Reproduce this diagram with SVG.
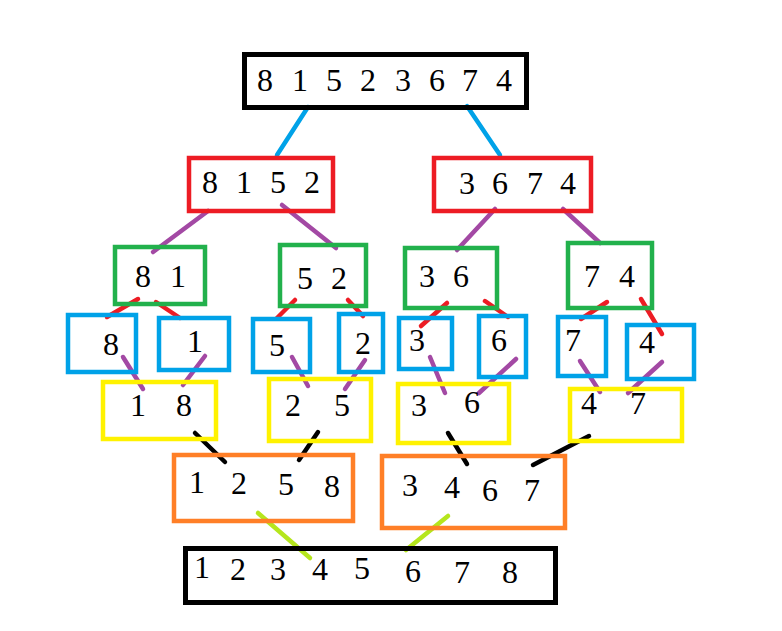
<svg xmlns="http://www.w3.org/2000/svg" width="782" height="631" viewBox="0 0 782 631">
<style>
.b{fill:none;stroke-width:4.5}
.k{stroke:#000000;stroke-width:5}
.r{stroke:#ed1c24}
.g{stroke:#22b14c}
.u{stroke:#00a2e8}
.y{stroke:#fff200}
.o{stroke:#ff7f27}
text{font-size:32px;fill:#000000;text-anchor:middle}
.c line{stroke-width:4.5;stroke-linecap:round}
</style>
<rect width="782" height="631" fill="#ffffff"/>
<g class="c" id="connectors">
<g stroke="#00a2e8"><line x1="308" y1="107" x2="277" y2="155"/><line x1="467" y1="106" x2="500" y2="155"/></g>
<g stroke="#a349a4"><line x1="208" y1="211" x2="153" y2="252"/><line x1="282" y1="205" x2="336" y2="248"/><line x1="495" y1="209" x2="457" y2="250"/><line x1="563" y1="209" x2="600" y2="243"/></g>
<g stroke="#ed1c24"><line x1="138" y1="299" x2="107" y2="317"/><line x1="156" y1="302" x2="180" y2="318"/><line x1="295" y1="300" x2="277" y2="318"/><line x1="348" y1="300" x2="363" y2="316"/><line x1="447" y1="303" x2="421" y2="326"/><line x1="485" y1="301" x2="508" y2="317"/><line x1="607" y1="302" x2="581" y2="319"/><line x1="641" y1="299" x2="662" y2="334"/></g>
<g stroke="#a349a4"><line x1="123" y1="357" x2="143" y2="389"/><line x1="205" y1="356" x2="183" y2="385"/><line x1="292" y1="357" x2="308" y2="386"/><line x1="365" y1="360" x2="345" y2="389"/><line x1="430" y1="357" x2="445" y2="393"/><line x1="516" y1="359" x2="479" y2="393"/><line x1="580" y1="361" x2="600" y2="392"/><line x1="662" y1="362" x2="628" y2="393"/></g>
<g stroke="#000000"><line x1="195" y1="433" x2="225" y2="462"/><line x1="318" y1="432" x2="299" y2="460"/><line x1="448" y1="433" x2="467" y2="464"/><line x1="589" y1="436" x2="533" y2="465"/></g>
<g stroke="#b5e61d"><line x1="258" y1="513" x2="310" y2="558"/><line x1="448" y1="516" x2="406" y2="550"/></g>
</g>
<g id="nodes" font-family="Liberation Serif, DejaVu Serif, serif">
<g id="n0"><rect class="b k" x="244.5" y="54.5" width="282" height="53"/><text x="265" y="91">8</text><text x="300" y="91">1</text><text x="334" y="91">5</text><text x="368" y="91">2</text><text x="403" y="91">3</text><text x="437" y="91">6</text><text x="470" y="91">7</text><text x="504" y="91">4</text></g>
<g id="n1"><rect class="b r" x="189" y="158" width="144" height="53"/><text x="210" y="193">8</text><text x="244" y="193">1</text><text x="278" y="193">5</text><text x="312" y="193">2</text></g>
<g id="n2"><rect class="b r" x="434" y="158" width="157" height="53"/><text x="467" y="194">3</text><text x="500" y="194">6</text><text x="535" y="194">7</text><text x="568" y="194">4</text></g>
<g id="n3"><rect class="b g" x="115" y="247" width="90" height="57"/><text x="143" y="287">8</text><text x="178" y="287">1</text></g>
<g id="n4"><rect class="b g" x="280" y="245" width="86" height="61"/><text x="305" y="289">5</text><text x="339" y="289">2</text></g>
<g id="n5"><rect class="b g" x="405" y="248" width="92" height="60"/><text x="427" y="287">3</text><text x="461" y="287">6</text></g>
<g id="n6"><rect class="b g" x="568" y="243" width="84" height="65"/><text x="592" y="287">7</text><text x="627" y="287">4</text></g>
<g id="n7"><rect class="b u" x="68" y="315" width="68" height="57"/><text x="111" y="355">8</text></g>
<g id="n8"><rect class="b u" x="159" y="318" width="70" height="52"/><text x="195" y="352">1</text></g>
<g id="n9"><rect class="b u" x="253" y="319" width="57" height="53"/><text x="277" y="356">5</text></g>
<g id="n10"><rect class="b u" x="339" y="314" width="44" height="58"/><text x="363" y="354">2</text></g>
<g id="n11"><rect class="b u" x="399" y="318" width="53" height="51"/><text x="417" y="351">3</text></g>
<g id="n12"><rect class="b u" x="479" y="316" width="47" height="61"/><text x="499" y="351">6</text></g>
<g id="n13"><rect class="b u" x="558" y="317" width="48" height="59"/><text x="573" y="351">7</text></g>
<g id="n14"><rect class="b u" x="627" y="325" width="67" height="54"/><text x="647" y="353">4</text></g>
<g id="n15"><rect class="b y" x="103" y="382" width="113" height="57"/><text x="138" y="416">1</text><text x="184" y="416">8</text></g>
<g id="n16"><rect class="b y" x="269" y="379" width="102" height="62"/><text x="293" y="416">2</text><text x="342" y="416">5</text></g>
<g id="n17"><rect class="b y" x="398" y="384" width="111" height="59"/><text x="419" y="416">3</text><text x="472" y="413">6</text></g>
<g id="n18"><rect class="b y" x="570" y="389" width="112" height="52"/><text x="589" y="414">4</text><text x="638" y="414">7</text></g>
<g id="n19"><rect class="b o" x="174" y="455" width="179" height="66"/><text x="197" y="493">1</text><text x="239" y="494">2</text><text x="286" y="495">5</text><text x="332" y="497">8</text></g>
<g id="n20"><rect class="b o" x="382" y="456" width="183" height="72"/><text x="410" y="496">3</text><text x="452" y="498">4</text><text x="490" y="501">6</text><text x="532" y="501">7</text></g>
<g id="n21"><rect class="b k" x="185.5" y="548.5" width="370" height="54"/><text x="202" y="578">1</text><text x="238" y="580">2</text><text x="278" y="580">3</text><text x="320" y="580">4</text><text x="362" y="579">5</text><text x="413" y="582">6</text><text x="462" y="583">7</text><text x="510" y="583">8</text></g>
</g>
</svg>
